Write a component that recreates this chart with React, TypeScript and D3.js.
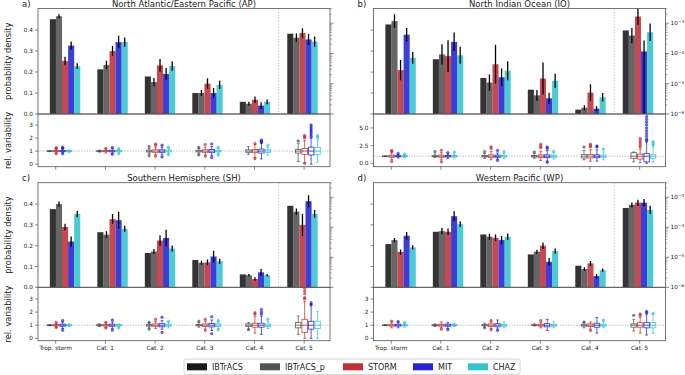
import React from 'react';
import * as d3 from 'd3';

const CATEGORIES = ['Trop. storm', 'Cat. 1', 'Cat. 2', 'Cat. 3', 'Cat. 4', 'Cat. 5'];
const MODELS = ['IBTrACS', 'IBTrACS_p', 'STORM', 'MIT', 'CHAZ'];
const COLORS = ['#000000', '#404040', '#b81c25', '#0c0ccd', '#1fbdcb'];
const LOG_TICKS = [1e-6, 1e-5, 1e-4, 1e-3];
const LOG_TICK_LABELS = ['\u22126', '\u22125', '\u22124', '\u22123'];
const BAR_TICKS = [0, 0.1, 0.2, 0.3, 0.4];

// Bar values: rows = models, columns = categories (Cat. 5 on the log axis)
const AP_BARS = [
  [0.452, 0.213, 0.179, 0.100, 0.058, 4.5e-4],
  [0.466, 0.234, 0.152, 0.100, 0.049, 3.3e-4],
  [0.253, 0.300, 0.232, 0.145, 0.068, 4.7e-4],
  [0.326, 0.343, 0.191, 0.100, 0.040, 2.9e-4],
  [0.228, 0.343, 0.229, 0.139, 0.058, 2.45e-4],
];
// half-width errors (Cat. 5 in decades, or [down, up] decades)
const AP_ERR = [
  [0, 0, 0, 0, 0, 0],
  [0.010, 0.020, 0.020, 0.014, 0.010, 0.14],
  [0.020, 0.024, 0.030, 0.026, 0.016, 0.16],
  [0.020, 0.030, 0.028, 0.024, 0.016, 0.18],
  [0.014, 0.022, 0.023, 0.020, 0.011, 0.17],
];
const IO_BARS = [
  [0.427, 0.261, 0.172, 0.116, 0.021, 5.75e-4],
  [0.443, 0.284, 0.150, 0.089, 0.030, 3.9e-4],
  [0.209, 0.276, 0.237, 0.169, 0.102, 1.66e-3],
  [0.378, 0.344, 0.175, 0.075, 0.025, 1.17e-4],
  [0.268, 0.280, 0.206, 0.158, 0.080, 5.0e-4],
];
const IO_ERR = [
  [0, 0, 0, 0, 0, 0],
  [0.032, 0.048, 0.038, 0.026, 0.012, 0.25],
  [0.048, 0.076, 0.093, 0.076, 0.040, 0.27],
  [0.032, 0.044, 0.042, 0.026, 0.012, [2.5, 0.36]],
  [0.028, 0.041, 0.045, 0.034, 0.020, 0.29],
];
const SH_BARS = [
  [0.376, 0.265, 0.165, 0.131, 0.062, 5.2e-4],
  [0.400, 0.253, 0.172, 0.118, 0.058, 3.3e-4],
  [0.290, 0.328, 0.225, 0.120, 0.040, 1.2e-4],
  [0.220, 0.323, 0.237, 0.148, 0.072, 7.4e-4],
  [0.352, 0.281, 0.186, 0.125, 0.058, 2.8e-4],
];
const SH_ERR = [
  [0, 0, 0, 0, 0, 0],
  [0.012, 0.016, 0.012, 0.010, 0.006, 0.11],
  [0.016, 0.024, 0.025, 0.014, 0.008, 0.37],
  [0.024, 0.040, 0.040, 0.028, 0.016, 0.20],
  [0.015, 0.015, 0.015, 0.012, 0.006, 0.13],
];
const WP_BARS = [
  [0.208, 0.267, 0.254, 0.158, 0.104, 4.4e-4],
  [0.227, 0.270, 0.243, 0.171, 0.088, 5.6e-4],
  [0.170, 0.267, 0.238, 0.200, 0.115, 6.6e-4],
  [0.248, 0.342, 0.227, 0.123, 0.054, 6.6e-4],
  [0.192, 0.304, 0.243, 0.174, 0.083, 3.8e-4],
];
const WP_ERR = [
  [0, 0, 0, 0, 0, 0],
  [0.010, 0.015, 0.014, 0.010, 0.008, 0.08],
  [0.012, 0.016, 0.016, 0.016, 0.012, 0.10],
  [0.018, 0.024, 0.020, 0.018, 0.010, 0.12],
  [0.010, 0.014, 0.016, 0.013, 0.008, 0.14],
];

// Box stats [whiskerLow, q1, median, q3, whiskerHigh]; per category, models IBTrACS_p, STORM, MIT, CHAZ
const AP_BOX = [
  [[0.96, 0.98, 1, 1.02, 1.04], [0.85, 0.95, 1, 1.05, 1.15], [0.85, 0.95, 1, 1.05, 1.15], [0.9, 0.96, 1, 1.04, 1.1]],
  [[0.92, 0.97, 1, 1.03, 1.08], [0.85, 0.95, 1, 1.05, 1.15], [0.82, 0.94, 1, 1.06, 1.18], [0.85, 0.95, 1, 1.05, 1.12]],
  [[0.8, 0.93, 1, 1.07, 1.2], [0.72, 0.9, 1, 1.1, 1.3], [0.7, 0.9, 1, 1.1, 1.3], [0.8, 0.93, 1, 1.07, 1.2]],
  [[0.8, 0.93, 1, 1.07, 1.2], [0.7, 0.9, 1, 1.1, 1.3], [0.65, 0.88, 1, 1.12, 1.35], [0.8, 0.93, 1, 1.07, 1.2]],
  [[0.75, 0.9, 1, 1.1, 1.35], [0.5, 0.88, 1, 1.12, 1.5], [0.4, 0.85, 1, 1.15, 1.6], [0.7, 0.9, 1, 1.1, 1.3]],
  [[0.2, 0.85, 1, 1.12, 1.6], [0.1, 0.75, 1, 1.2, 1.8], [0.0, 0.7, 1, 1.3, 2.0], [0.15, 0.72, 1, 1.28, 1.85]],
];
const AP_FLIERS = [
  [[], [1.25, 1.2, 0.8], [1.3, 1.22, 0.8], []],
  [[], [1.22], [1.28, 0.75], [0.8, 1.18]],
  [[1.35, 0.65], [1.55, 1.45, 0.6], [1.45, 0.55], [1.3, 0.72]],
  [[1.3, 0.7], [1.5, 0.6], [1.55, 0.5], [1.3, 0.7]],
  [[], [1.58, 0.42], [1.85, 1.75, 1.68], [1.45]],
  [[1.78], [2.2, 2.1, 2.0, 0.05], [3.0, 2.85, 2.7, 2.55, 2.4, 2.25, 2.1], [2.2, 2.05]],
];
const IO_BOX = [
  [[0.95, 0.98, 1, 1.02, 1.05], [0.5, 0.85, 1, 1.15, 1.5], [0.75, 0.92, 1, 1.08, 1.25], [0.8, 0.93, 1, 1.07, 1.2]],
  [[0.8, 0.93, 1, 1.07, 1.3], [0.5, 0.85, 1, 1.15, 1.5], [0.7, 0.9, 1, 1.1, 1.3], [0.75, 0.9, 1, 1.1, 1.3]],
  [[0.7, 0.9, 1, 1.1, 1.4], [0.5, 0.8, 1, 1.2, 1.7], [0.6, 0.85, 1, 1.15, 1.45], [0.65, 0.88, 1, 1.12, 1.4]],
  [[0.7, 0.9, 1, 1.1, 1.4], [0.4, 0.8, 1, 1.2, 1.7], [0.3, 0.8, 1, 1.2, 1.8], [0.6, 0.85, 1, 1.15, 1.5]],
  [[0.5, 0.75, 1, 1.25, 1.8], [0.3, 0.75, 1, 1.25, 1.9], [0.3, 0.8, 1, 1.2, 1.9], [0.5, 0.85, 1, 1.15, 1.6]],
  [[0.2, 0.7, 1, 1.5, 1.6], [0.1, 0.6, 1, 1.3, 2.0], [0.0, 0.2, 1, 1.4, 3.0], [0.2, 0.7, 1, 1.2, 2.3]],
];
const IO_FLIERS = [
  [[], [1.8, 1.7, 0.25], [1.4], [1.3]],
  [[1.65], [1.85, 0.2], [1.5], [1.6]],
  [[1.65], [2.3, 2.1], [1.8, 0.4], [1.65]],
  [[1.6], [2.7, 2.4, 2.2], [2.3, 2.1, 0.15], [1.7]],
  [[2.3], [2.7, 2.5, 2.3], [2.45, 2.3], [2.0]],
  [[], [3.5, 3.2, 2.9, 2.6, 2.3], [6.6, 6.2, 5.8, 5.4, 5.0, 4.6, 4.2, 3.8, 3.4, 3.2], [3.05, 2.8, 2.6]],
];
const SH_BOX = [
  [[0.96, 0.98, 1, 1.02, 1.04], [0.85, 0.95, 1, 1.05, 1.15], [0.75, 0.92, 1, 1.08, 1.25], [0.9, 0.96, 1, 1.04, 1.1]],
  [[0.9, 0.96, 1, 1.04, 1.1], [0.82, 0.94, 1, 1.06, 1.18], [0.75, 0.92, 1, 1.08, 1.25], [0.88, 0.95, 1, 1.05, 1.1]],
  [[0.8, 0.93, 1, 1.07, 1.2], [0.75, 0.9, 1, 1.1, 1.3], [0.7, 0.88, 1, 1.12, 1.35], [0.8, 0.93, 1, 1.07, 1.2]],
  [[0.85, 0.95, 1, 1.05, 1.2], [0.7, 0.9, 1, 1.1, 1.3], [0.6, 0.87, 1, 1.13, 1.4], [0.75, 0.9, 1, 1.1, 1.25]],
  [[0.7, 0.9, 1, 1.1, 1.2], [0.4, 0.85, 1, 1.15, 1.7], [0.3, 0.85, 1, 1.15, 1.7], [0.75, 0.9, 1, 1.1, 1.3]],
  [[0.3, 0.8, 1, 1.2, 1.7], [0.0, 0.45, 1, 1.45, 2.8], [0.0, 0.7, 1, 1.3, 2.6], [0.0, 0.75, 1, 1.3, 2.05]],
];
const SH_FLIERS = [
  [[], [1.22, 0.82], [1.35, 0.62], []],
  [[], [1.22, 0.78], [1.4, 0.62], [0.78]],
  [[0.7, 1.22], [1.45], [1.6, 0.45], [1.3]],
  [[1.3], [1.45, 0.6], [1.65, 0.35], [1.35, 0.65]],
  [[0.65], [1.95, 1.85], [2.2, 2.0, 1.85], [1.45]],
  [[], [3.8, 3.6, 3.4, 3.1, 3.0], [2.7, 2.55], []],
];
const WP_BOX = [
  [[0.96, 0.98, 1, 1.02, 1.04], [0.8, 0.93, 1, 1.07, 1.25], [0.8, 0.93, 1, 1.07, 1.2], [0.85, 0.95, 1, 1.05, 1.15]],
  [[0.9, 0.96, 1, 1.04, 1.1], [0.8, 0.93, 1, 1.07, 1.25], [0.75, 0.92, 1, 1.08, 1.2], [0.9, 0.96, 1, 1.04, 1.15]],
  [[0.85, 0.95, 1, 1.05, 1.15], [0.75, 0.9, 1, 1.1, 1.25], [0.7, 0.88, 1, 1.12, 1.4], [0.8, 0.93, 1, 1.07, 1.25]],
  [[0.95, 0.98, 1, 1.03, 1.1], [0.8, 0.93, 1, 1.07, 1.2], [0.6, 0.88, 1, 1.12, 1.45], [0.8, 0.93, 1, 1.07, 1.25]],
  [[0.8, 0.93, 1, 1.07, 1.2], [0.7, 0.9, 1, 1.1, 1.25], [0.4, 0.85, 1, 1.15, 1.6], [0.8, 0.93, 1, 1.07, 1.3]],
  [[0.55, 0.85, 1, 1.1, 1.45], [0.4, 0.85, 1, 1.2, 1.6], [0.25, 0.8, 1, 1.2, 1.85], [0.4, 0.8, 1, 1.2, 1.85]],
];
const WP_FLIERS = [
  [[], [1.3], [1.28], [1.2]],
  [[], [0.7], [0.65], []],
  [[0.8], [1.35, 0.65], [0.6], []],
  [[], [1.35], [], []],
  [[1.25], [0.6], [], [1.4]],
  [[1.75], [1.85, 1.75], [2.05, 1.95], [1.9]],
];

const FONT = "'DejaVu Sans', 'Liberation Sans', sans-serif";
const SPINE = '#555';

const PANELS = [
  { letter: 'a)', title: 'North Atlantic/Eastern Pacific (AP)', left: 38, right: 330, top: 8.5, mid: 114, bottom: 166.7,
    boxDomain: [-0.2, 3.85], boxTicks: [0, 1, 2, 3], boxFmt: (d: number) => d3.format('d')(d),
    leftLabels: true, rightLabels: false, xLabels: false, yTitles: true,
    bars: AP_BARS, errs: AP_ERR, boxes: AP_BOX, fliers: AP_FLIERS },
  { letter: 'b)', title: 'North Indian Ocean (IO)', left: 373.5, right: 665.5, top: 8.5, mid: 114, bottom: 166.7,
    boxDomain: [-0.48, 6.97], boxTicks: [0, 2.5, 5], boxFmt: (d: number) => d3.format('.1f')(d),
    leftLabels: false, rightLabels: true, xLabels: false, yTitles: false,
    bars: IO_BARS, errs: IO_ERR, boxes: IO_BOX, fliers: IO_FLIERS },
  { letter: 'c)', title: 'Southern Hemisphere (SH)', left: 38, right: 330, top: 182.7, mid: 287.3, bottom: 340.7,
    boxDomain: [-0.18, 3.89], boxTicks: [0, 1, 2, 3], boxFmt: (d: number) => d3.format('d')(d),
    leftLabels: true, rightLabels: false, xLabels: true, yTitles: true,
    bars: SH_BARS, errs: SH_ERR, boxes: SH_BOX, fliers: SH_FLIERS },
  { letter: 'd)', title: 'Western Pacific (WP)', left: 373.5, right: 665.5, top: 182.7, mid: 287.3, bottom: 340.7,
    boxDomain: [-0.18, 3.89], boxTicks: [0, 1, 2, 3], boxFmt: (d: number) => d3.format('d')(d),
    leftLabels: false, rightLabels: true, xLabels: true, yTitles: false,
    bars: WP_BARS, errs: WP_ERR, boxes: WP_BOX, fliers: WP_FLIERS },
];

function Panel({ p, idx }: { p: any; idx: number }) {
  const xBar = d3.scaleLinear().domain([-0.57, 5.58]).range([p.left, p.right]);
  const xBox = d3.scaleLinear().domain([-0.356, 5.52]).range([p.left, p.right]);
  const yLin = d3.scaleLinear().domain([0, 0.503]).range([p.mid, p.top]);
  const yLog = d3.scaleLog().domain([1e-6, Math.pow(10, -2.515)]).range([p.mid, p.top]);
  const yBox = d3.scaleLinear().domain(p.boxDomain).range([p.bottom, p.mid]);
  const bw = 0.128;
  const clipId = `clip-bar-${idx}`;
  const clipBox = `clip-box-${idx}`;

  const minor: number[] = [];
  for (let e = -6; e <= -3; e++) for (let m = 2; m <= 9; m++) {
    const v = m * Math.pow(10, e);
    if (v < yLog.domain()[1]) minor.push(v);
  }

  const barEls: any[] = [];
  const errEls: any[] = [];
  p.bars.forEach((row: number[], k: number) => {
    row.forEach((v: number, i: number) => {
      const cx = xBar(i + (k - 2) * bw);
      const x0 = xBar(i + (k - 2.5) * bw);
      const x1 = xBar(i + (k - 1.5) * bw);
      const isLog = i === 5;
      const y = isLog ? yLog(v) : yLin(v);
      barEls.push(<rect key={`b${k}-${i}`} x={x0} y={y} width={x1 - x0} height={p.mid - y}
        fill={COLORS[k]} fillOpacity={0.8} />);
      const e = p.errs[k][i];
      if (e) {
        let lo: number, hi: number;
        if (isLog) {
          const dn = Array.isArray(e) ? e[0] : e;
          const up = Array.isArray(e) ? e[1] : e;
          lo = yLog(Math.max(1e-7, v * Math.pow(10, -dn)));
          hi = yLog(v * Math.pow(10, up));
        } else {
          lo = yLin(v - e);
          hi = yLin(v + e);
        }
        errEls.push(<line key={`e${k}-${i}`} x1={cx} x2={cx} y1={lo} y2={hi} stroke="#000" strokeWidth={1.3} />);
      }
    });
  });

  const boxEls: any[] = [];
  const offs = [-0.12, 0.01, 0.14, 0.27];
  const boxW = 0.11;
  p.boxes.forEach((cat: number[][], i: number) => {
    cat.forEach((s: number[], m: number) => {
      const col = COLORS[m + 1];
      const c = i + offs[m];
      const xl = xBox(c - boxW / 2), xr = xBox(c + boxW / 2), xc = xBox(c);
      const capL = xBox(c - boxW / 4), capR = xBox(c + boxW / 4);
      const [wl, q1, md, q3, wh] = s;
      boxEls.push(
        <g key={`bx${i}-${m}`} stroke={col} strokeOpacity={0.75} strokeWidth={0.9} fill="none">
          <line x1={xc} x2={xc} y1={yBox(wl)} y2={yBox(q1)} />
          <line x1={xc} x2={xc} y1={yBox(q3)} y2={yBox(wh)} />
          <line x1={capL} x2={capR} y1={yBox(wl)} y2={yBox(wl)} />
          <line x1={capL} x2={capR} y1={yBox(wh)} y2={yBox(wh)} />
          <rect x={xl} y={yBox(q3)} width={xr - xl} height={Math.max(0.5, yBox(q1) - yBox(q3))} />
          <line x1={xl} x2={xr} y1={yBox(md)} y2={yBox(md)} />
          {p.fliers[i][m].map((f: number, j: number) => (
            <circle key={j} cx={xc} cy={yBox(f)} r={1.3} fill={col} fillOpacity={0.6} stroke={col} strokeWidth={0.5} />
          ))}
        </g>
      );
    });
  });

  const tickFs = 5.8;
  return (
    <g>
      <defs>
        <clipPath id={clipId}><rect x={p.left} y={p.top} width={p.right - p.left} height={p.mid - p.top} /></clipPath>
        <clipPath id={clipBox}><rect x={p.left} y={p.mid} width={p.right - p.left} height={p.bottom - p.mid} /></clipPath>
      </defs>
      {/* title & letter */}
      <text x={(p.left + p.right) / 2} y={p.top - 1.6} textAnchor="middle" fontSize={8.5} fontFamily={FONT} fill="#222">{p.title}</text>
      <text x={p.left - 16} y={p.top - 2} fontSize={8.5} fontFamily={FONT} fill="#222">{p.letter}</text>

      {/* bar panel */}
      <line x1={xBar(4.5)} x2={xBar(4.5)} y1={p.top} y2={p.mid} stroke="#bbb" strokeWidth={0.8} strokeDasharray="1.5,1.5" />
      <g clipPath={`url(#${clipId})`}>
        {barEls}
        {errEls}
      </g>
      <rect x={p.left} y={p.top} width={p.right - p.left} height={p.mid - p.top} fill="none" stroke={SPINE} strokeWidth={0.8} />
      {BAR_TICKS.map(t => (
        <g key={`lt${t}`}>
          <line x1={p.left - 3} x2={p.left} y1={yLin(t)} y2={yLin(t)} stroke={SPINE} strokeWidth={0.7} />
          {p.leftLabels && <text x={p.left - 5} y={yLin(t)} dy="0.35em" textAnchor="end" fontSize={tickFs} fontFamily={FONT} fill="#222">{d3.format('.1f')(t)}</text>}
        </g>
      ))}
      {LOG_TICKS.map((t, j) => (
        <g key={`rt${j}`}>
          <line x1={p.right} x2={p.right + 3.5} y1={yLog(t)} y2={yLog(t)} stroke={SPINE} strokeWidth={0.7} />
          {p.rightLabels && <text x={p.right + 5} y={yLog(t)} dy="0.35em" fontSize={tickFs} fontFamily={FONT} fill="#222">10<tspan dy="-0.45em" fontSize={4.2}>{LOG_TICK_LABELS[j]}</tspan></text>}
        </g>
      ))}
      {minor.map((t, j) => (
        <line key={`mn${j}`} x1={p.right} x2={p.right + 2} y1={yLog(t)} y2={yLog(t)} stroke={SPINE} strokeWidth={0.5} />
      ))}

      {/* box panel */}
      <line x1={p.left} x2={p.right} y1={yBox(1)} y2={yBox(1)} stroke="#aaa" strokeWidth={0.7} strokeDasharray="1.5,1.2" />
      <g clipPath={`url(#${clipBox})`}>{boxEls}</g>
      <rect x={p.left} y={p.mid} width={p.right - p.left} height={p.bottom - p.mid} fill="none" stroke={SPINE} strokeWidth={0.8} />
      {p.boxTicks.map((t: number) => (
        <g key={`bt${t}`}>
          <line x1={p.left - 3} x2={p.left} y1={yBox(t)} y2={yBox(t)} stroke={SPINE} strokeWidth={0.7} />
          <text x={p.left - 5} y={yBox(t)} dy="0.35em" textAnchor="end" fontSize={tickFs} fontFamily={FONT} fill="#222">{p.boxFmt(t)}</text>
        </g>
      ))}
      {CATEGORIES.map((c, i) => (
        <g key={`xt${i}`}>
          <line x1={xBox(i)} x2={xBox(i)} y1={p.bottom} y2={p.bottom + 3} stroke={SPINE} strokeWidth={0.7} />
          {p.xLabels && <text x={xBox(i)} y={p.bottom + 9.5} textAnchor="middle" fontSize={tickFs} fontFamily={FONT} fill="#222">{c}</text>}
        </g>
      ))}

      {p.yTitles && (
        <g fontSize={8.3} fontFamily={FONT} fill="#222" textAnchor="middle">
          <text transform={`translate(11,${(p.top + p.mid) / 2}) rotate(-90)`}>probability density</text>
          <text transform={`translate(11,${(p.mid + p.bottom) / 2}) rotate(-90)`}>rel. variability</text>
        </g>
      )}
    </g>
  );
}

const LEGEND_X = [187, 260, 343, 413, 468];

export default function App() {
  return (
    <svg width={685} height={375} style={{ position: 'absolute', left: 0, top: 0, background: '#fff' }}>
      <rect width={685} height={375} fill="#fff" />
      {PANELS.map((p, i) => <Panel key={i} p={p} idx={i} />)}
      <g>
        <rect x={184} y={359} width={336} height={15.5} rx={2} fill="#fff" stroke="#ccc" strokeWidth={0.8} />
        {MODELS.map((m, k) => (
          <g key={m}>
            <rect x={LEGEND_X[k]} y={363.3} width={20} height={7} fill={COLORS[k]} fillOpacity={0.9} />
            <text x={LEGEND_X[k] + 25} y={366.8} dy="0.35em" fontSize={8} fontFamily={FONT} fill="#222">{m}</text>
          </g>
        ))}
      </g>
    </svg>
  );
}
